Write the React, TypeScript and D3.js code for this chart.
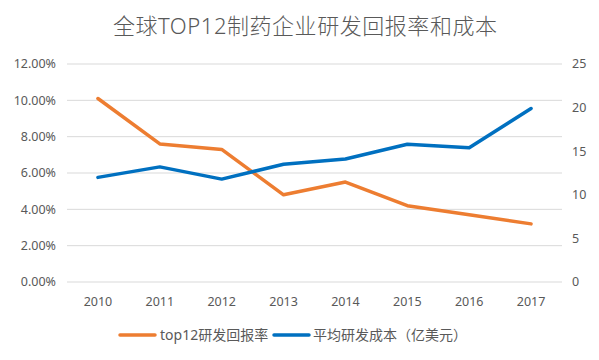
import React from "react";
import * as d3 from "d3";

const years = ["2010", "2011", "2012", "2013", "2014", "2015", "2016", "2017"];
const returnRate = [10.1, 7.6, 7.3, 4.8, 5.5, 4.2, 3.7, 3.2];
const avgCost = [12.0, 13.2, 11.8, 13.5, 14.1, 15.8, 15.4, 19.9];
const leftTicks = [0, 2, 4, 6, 8, 10, 12];
const rightTicks = [0, 5, 10, 15, 20, 25];
const seriesNames = ["top12研发回报率", "平均研发成本（亿美元）"];
const colors = ["#ED7D31", "#0070C0"];
const title = "全球TOP12制药企业研发回报率和成本";

export default function App() {
  const W = 599, H = 360;
  const left = 67, right = 562, top = 64, bottom = 282;
  const x = d3.scaleBand<string>().domain(years).range([left, right]);
  const yL = d3.scaleLinear().domain([0, 12]).range([bottom, top]);
  const yR = d3.scaleLinear().domain([0, 25]).range([bottom, top]);
  const cx = (d: string) => (x(d) as number) + x.bandwidth() / 2;
  const lineL = d3.line<number>().x((_, i) => cx(years[i])).y((v) => yL(v));
  const lineR = d3.line<number>().x((_, i) => cx(years[i])).y((v) => yR(v));
  const font = "'Noto Sans', 'Noto Sans CJK SC', sans-serif";
  const txt = "#595959";
  return (
    <svg width={W} height={H} style={{ position: "absolute", left: 0, top: 0, background: "#fff" }}>
      <text x={113} y={34} textAnchor="start" fontSize={22} fontWeight={300} fill={txt} fontFamily={font} textLength={384} lengthAdjust="spacing">
        {title}
      </text>
      {leftTicks.map((t) => (
        <g key={t}>
          <line x1={left} x2={right} y1={yL(t)} y2={yL(t)} stroke="#D9D9D9" strokeWidth={1} />
          <text x={56} y={yL(t)} dy="0.35em" textAnchor="end" fontSize={12.5} fill={txt} fontFamily={font}>
            {t.toFixed(2) + "%"}
          </text>
        </g>
      ))}
      {rightTicks.map((t) => (
        <text key={t} x={572} y={yR(t)} dy="0.35em" textAnchor="start" fontSize={12.5} fill={txt} fontFamily={font}>
          {t}
        </text>
      ))}
      {years.map((y) => (
        <text key={y} x={cx(y)} y={302} dy="0.35em" textAnchor="middle" fontSize={12.5} fill={txt} fontFamily={font}>
          {y}
        </text>
      ))}
      <path d={lineL(returnRate) || ""} fill="none" stroke={colors[0]} strokeWidth={3.5} strokeLinejoin="round" strokeLinecap="round" />
      <path d={lineR(avgCost) || ""} fill="none" stroke={colors[1]} strokeWidth={3.5} strokeLinejoin="round" strokeLinecap="round" />
      <g>
        <line x1={120} x2={155} y1={335} y2={335} stroke={colors[0]} strokeWidth={3.5} strokeLinecap="round" />
        <text x={160} y={335} dy="0.35em" fontSize={14} fill={txt} fontFamily={font}>{seriesNames[0]}</text>
        <line x1={274} x2={309} y1={335} y2={335} stroke={colors[1]} strokeWidth={3.5} strokeLinecap="round" />
        <text x={313} y={335} dy="0.35em" fontSize={14} fill={txt} fontFamily={font}>{seriesNames[1]}</text>
      </g>
    </svg>
  );
}
